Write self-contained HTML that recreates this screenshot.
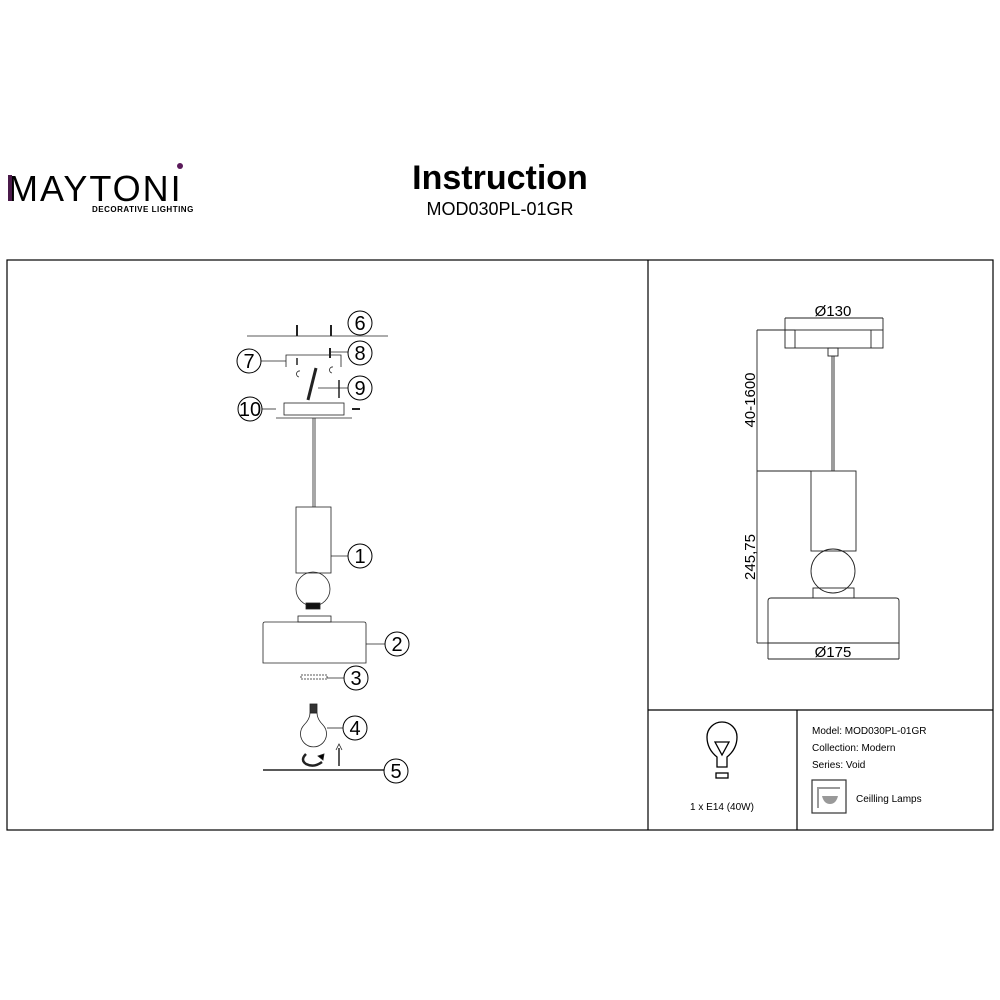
<!DOCTYPE html>
<html><head><meta charset="utf-8"><style>
html,body{margin:0;padding:0;background:#fff;width:1000px;height:1000px;overflow:hidden}
svg{display:block}
text{font-family:"Liberation Sans",Arial,sans-serif;fill:#000}
</style></head><body>
<svg width="1000" height="1000" viewBox="0 0 1000 1000">
<!-- logo -->
<text x="8" y="201" font-size="36" letter-spacing="2">MAYTONI</text>
<rect x="8" y="175" width="4" height="26" fill="#4a1a4a"/>
<circle cx="180" cy="166" r="3" fill="#5a1a5a"/>
<text x="92" y="212" font-size="8" font-weight="bold" letter-spacing="0.5">DECORATIVE LIGHTING</text>
<text x="500" y="189" font-size="34" font-weight="bold" text-anchor="middle">Instruction</text>
<text x="500" y="215" font-size="18" text-anchor="middle">MOD030PL-01GR</text>
<!-- frames -->
<g fill="none" stroke="#000" stroke-width="1.2">
<rect x="7" y="260" width="986" height="570"/>
<line x1="648" y1="260" x2="648" y2="830"/>
<line x1="648" y1="710" x2="993" y2="710"/>
<line x1="797" y1="710" x2="797" y2="830"/>
</g>
<!-- left exploded diagram -->
<g fill="none" stroke="#222" stroke-width="0.8">
<line x1="247" y1="336" x2="388" y2="336"/>
<line x1="297" y1="325" x2="297" y2="336" stroke-width="2"/>
<line x1="331" y1="325" x2="331" y2="336" stroke-width="2"/>
<polyline points="286,367 286,355 341,355 341,367"/>
<line x1="261" y1="361" x2="286" y2="361"/>
<line x1="331" y1="352" x2="348" y2="352"/>
<line x1="330" y1="348" x2="330" y2="358" stroke-width="2"/>
<line x1="297" y1="358" x2="297" y2="365" stroke-width="1.5"/>
<path d="M300 371 a3 3 0 1 0 -1 6"/>
<path d="M333 367 a3 3 0 1 0 -1 6"/>
<line x1="316" y1="368" x2="308" y2="400" stroke-width="3"/>
<line x1="318" y1="388" x2="348" y2="388"/>
<line x1="339" y1="380" x2="339" y2="398" stroke-width="1.5"/>
<rect x="284" y="403" width="60" height="12"/>
<line x1="276" y1="418" x2="352" y2="418"/>
<line x1="262" y1="409" x2="276" y2="409"/>
<line x1="352" y1="409" x2="360" y2="409" stroke-width="2"/>
<line x1="313" y1="418" x2="313" y2="507"/><line x1="315" y1="418" x2="315" y2="507"/>
<rect x="296" y="507" width="35" height="66"/>
<line x1="331" y1="556" x2="348" y2="556"/>
<circle cx="313" cy="589" r="17"/>
<rect x="306" y="603" width="14" height="6" fill="#111"/>
<rect x="298" y="616" width="33" height="6"/>
<path d="M263 663 V624 q0 -2 2 -2 H364 q2 0 2 2 V663 Z"/>
<line x1="366" y1="644" x2="385" y2="644"/>
<rect x="301" y="675" width="26" height="4" stroke-dasharray="2 1"/>
<line x1="327" y1="678" x2="344" y2="678"/>
<rect x="310" y="704" width="7" height="9" fill="#333"/>
<path d="M310 713 q0 6 -6 12 a13 13 0 1 0 19 0 q-6 -6 -6 -12 Z"/>
<line x1="327" y1="728" x2="343" y2="728"/>
<path d="M306 754 q-6 6 0 10 q8 4 16 -2" stroke-width="2.5"/>
<path d="M318 756 l6 -2 l-1 6 Z" fill="#000"/>
<line x1="339" y1="748" x2="339" y2="766" stroke-width="1.5"/>
<path d="M336 750 l3 -6 l3 6" />
<line x1="263" y1="770" x2="384" y2="770" stroke-width="1.4"/>
</g>
<g fill="none" stroke="#000" stroke-width="1">
<circle cx="360" cy="323" r="12"/><circle cx="249" cy="361" r="12"/>
<circle cx="360" cy="353" r="12"/><circle cx="360" cy="388" r="12"/>
<circle cx="250" cy="409" r="12"/><circle cx="360" cy="556" r="12"/>
<circle cx="397" cy="644" r="12"/><circle cx="356" cy="678" r="12"/>
<circle cx="355" cy="728" r="12"/><circle cx="396" cy="771" r="12"/>
</g>
<g font-size="20" text-anchor="middle">
<text x="360" y="330">6</text><text x="249" y="368">7</text>
<text x="360" y="360">8</text><text x="360" y="395">9</text>
<text x="250" y="416">10</text><text x="360" y="563">1</text>
<text x="397" y="651">2</text><text x="356" y="685">3</text>
<text x="355" y="735">4</text><text x="396" y="778">5</text>
</g>
<!-- right dimension drawing -->
<g fill="none" stroke="#222" stroke-width="0.9">
<line x1="785" y1="318" x2="883" y2="318"/>
<line x1="785" y1="318" x2="785" y2="330"/><line x1="883" y1="318" x2="883" y2="330"/>
<rect x="785" y="330" width="98" height="18"/>
<line x1="795" y1="330" x2="795" y2="348"/><line x1="871" y1="330" x2="871" y2="348"/>
<line x1="757" y1="330" x2="795" y2="330"/>
<line x1="757" y1="330" x2="757" y2="643"/>
<line x1="757" y1="471" x2="811" y2="471"/>
<line x1="757" y1="643" x2="768" y2="643"/>
<rect x="828" y="348" width="10" height="8"/>
<line x1="832" y1="356" x2="832" y2="471"/><line x1="834" y1="356" x2="834" y2="471"/>
<rect x="811" y="471" width="45" height="80"/>
<circle cx="833" cy="571" r="22"/>
<rect x="813" y="588" width="41" height="10"/>
<path d="M768 643 V601 q0 -3 3 -3 H896 q3 0 3 3 V643 Z"/>
<line x1="768" y1="643" x2="768" y2="659"/><line x1="899" y1="643" x2="899" y2="659"/>
<line x1="768" y1="659" x2="899" y2="659"/>
</g>
<g font-size="15" text-anchor="middle">
<text x="833" y="316">Ø130</text>
<text x="833" y="657">Ø175</text>
<text transform="translate(755,400) rotate(-90)">40-1600</text>
<text transform="translate(755,557) rotate(-90)">245,75</text>
</g>
<!-- info -->
<g fill="none" stroke="#000" stroke-width="1.3">
<path d="M717 767 v-10 q-10 -8 -10 -20 a15 15 0 0 1 30 0 q0 12 -10 20 v10 Z"/>
<path d="M715 742 h14 l-7 13 Z"/>
<rect x="716" y="773" width="12" height="5"/>
</g>
<text x="722" y="810" font-size="10" text-anchor="middle">1 x E14 (40W)</text>
<g font-size="10">
<text x="812" y="734">Model: MOD030PL-01GR</text>
<text x="812" y="751">Collection: Modern</text>
<text x="812" y="768">Series: Void</text>
<text x="856" y="802">Ceilling Lamps</text>
</g>
<rect x="812" y="780" width="34" height="33" fill="none" stroke="#333" stroke-width="1.2"/>
<path d="M818 808 V788 H840" fill="none" stroke="#999" stroke-width="2"/>
<path d="M822 796 h16 q-2 8 -8 8 q-6 0 -8 -8 Z" fill="#999"/>
</svg>
</body></html>
